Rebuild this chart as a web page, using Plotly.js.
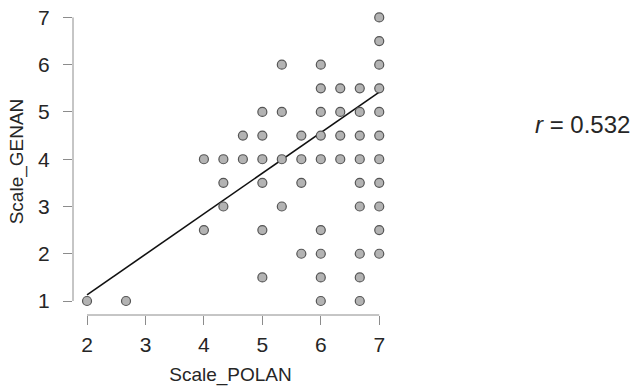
<!DOCTYPE html>
<html>
<head>
<meta charset="utf-8">
<script src="https://cdn.plot.ly/plotly-3.0.1.min.js"></script>
<style>html,body{margin:0;padding:0;background:#fff;}#chart{width:636px;height:390px;}</style>
</head>
<body>
<div id="chart"></div>
<script>
// Scatter points (Scale_POLAN, Scale_GENAN)
const polan = [
  2, 2.667, 6, 6.667,
  5, 6, 6.667,
  5.667, 6, 6.667, 7,
  4, 5, 6, 7,
  4.333, 5.333, 6.667, 7,
  4.333, 5, 5.667, 6.667, 7,
  4, 4.333, 4.667, 5, 5.333, 5.667, 6, 6.333, 6.667, 7,
  4.667, 5, 5.667, 6, 6.333, 6.667, 7,
  5, 5.333, 6, 6.333, 6.667, 7,
  6, 6.333, 6.667, 7,
  5.333, 6, 7,
  7,
  7
];
const genan = [
  1, 1, 1, 1,
  1.5, 1.5, 1.5,
  2, 2, 2, 2,
  2.5, 2.5, 2.5, 2.5,
  3, 3, 3, 3,
  3.5, 3.5, 3.5, 3.5, 3.5,
  4, 4, 4, 4, 4, 4, 4, 4, 4, 4,
  4.5, 4.5, 4.5, 4.5, 4.5, 4.5, 4.5,
  5, 5, 5, 5, 5, 5,
  5.5, 5.5, 5.5, 5.5,
  6, 6, 6,
  6.5,
  7
];
// Fitted regression line endpoints
const fitX = [2, 7];
const fitY = [1.13, 5.42];
// Tick labels
const xTicks = [2, 3, 4, 5, 6, 7];
const yTicks = [1, 2, 3, 4, 5, 6, 7];
const rLabel = "<i>r</i> = 0.532";

const axisColor = "#8c8c8c";
const textColor = "#262626";
const font = "Liberation Sans, Arial, sans-serif";

const traces = [
  {
    x: fitX, y: fitY, mode: "lines", type: "scatter",
    line: {color: "#111", width: 1.6}, hoverinfo: "skip"
  },
  {
    x: polan, y: genan, mode: "markers", type: "scatter",
    marker: {size: 9, color: "#b3b3b3", line: {color: "#555", width: 1.2}}
  }
];

const layout = {
  width: 636, height: 390,
  margin: {l: 73, r: 248, t: 7.5, b: 75},
  paper_bgcolor: "#fff", plot_bgcolor: "#fff",
  showlegend: false,
  font: {family: font, color: textColor},
  xaxis: {
    range: [1.76, 7.15], tickvals: xTicks, ticktext: xTicks.map(String),
    showgrid: false, zeroline: false, showline: false,
    ticks: "outside", ticklen: 9, tickcolor: axisColor, tickwidth: 1,
    ticklabelstandoff: 2,
    tickfont: {size: 21, family: font, color: textColor},
    title: {text: "Scale_POLAN", font: {size: 19, family: font, color: textColor}, standoff: 12}
  },
  yaxis: {
    range: [0.704, 7.2], tickvals: yTicks, ticktext: yTicks.map(String),
    showgrid: false, zeroline: false, showline: false,
    ticks: "outside", ticklen: 9, tickcolor: axisColor, tickwidth: 1,
    ticklabelstandoff: 9,
    tickfont: {size: 21, family: font, color: textColor},
    title: {text: "Scale_GENAN", font: {size: 19, family: font, color: textColor}, standoff: 9}
  },
  shapes: [
    {type: "line", xref: "paper", yref: "y", x0: 0, x1: 0, y0: 1, y1: 7, line: {color: axisColor, width: 1}},
    {type: "line", xref: "x", yref: "paper", x0: 2, x1: 7, y0: 0, y1: 0, line: {color: axisColor, width: 1}}
  ],
  annotations: [
    {text: rLabel, xref: "paper", yref: "paper", x: 1.46, y: 0.62, xanchor: "left", yanchor: "middle",
     showarrow: false, font: {size: 24, family: font, color: textColor}}
  ]
};

Plotly.newPlot("chart", traces, layout, {displayModeBar: false, staticPlot: true});
</script>
</body>
</html>
